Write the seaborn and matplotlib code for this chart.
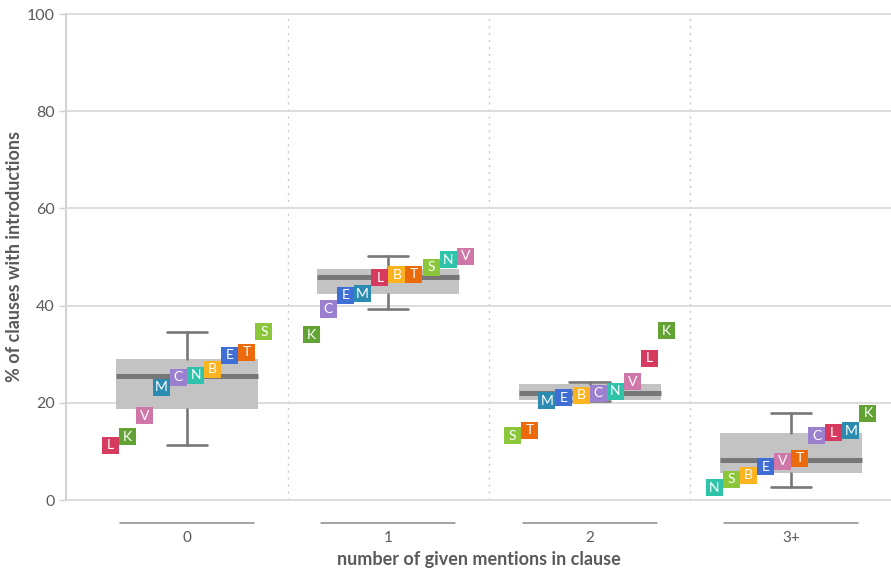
import numpy as np
import pandas as pd
import matplotlib
matplotlib.use("Agg")
import matplotlib.pyplot as plt
import seaborn as sns

# ---------------- data ----------------
categories = ["0", "1", "2", "3+"]
langs = ["B", "C", "E", "K", "L", "M", "N", "S", "T", "V"]

vals_0 = [26.9, 25.3, 29.8, 13.0, 11.3, 23.2, 25.7, 34.6, 30.4, 17.3]
vals_1 = [46.3, 39.3, 42.1, 34.0, 45.7, 42.4, 49.4, 47.9, 46.5, 50.2]
vals_2 = [21.6, 22.0, 21.0, 34.8, 29.2, 20.4, 22.4, 13.2, 14.4, 24.3]
vals_3 = [5.1, 13.2, 6.8, 17.9, 13.8, 14.2, 2.5, 4.3, 8.6, 8.0]

box_q1 = [18.7, 42.3, 20.5, 5.6]
box_med = [25.5, 45.9, 22.0, 8.3]
box_q3 = [29.0, 47.5, 23.9, 13.8]
box_lo = [11.3, 39.3, 20.3, 2.6]
box_hi = [34.6, 50.2, 24.3, 18.0]

lang_colors = {
    "B": "#fbb31f", "C": "#9b80cf", "E": "#3f6fd4", "K": "#62a333",
    "L": "#d63a5e", "M": "#2b8bb1", "N": "#2fc3aa", "S": "#8cc63b",
    "T": "#eb6a0b", "V": "#cf77a8",
}

# ---------------- layout helpers ----------------
all_vals = [vals_0, vals_1, vals_2, vals_3]
step = 0.0849  # horizontal spacing of squares within a group
rows = []
for gi, vals in enumerate(all_vals):
    order = np.argsort(vals)
    for rank, idx in enumerate(order):
        rows.append({"cat": gi, "lang": langs[idx], "value": vals[idx],
                     "xpos": gi + (rank - 4.5) * step})
df = pd.DataFrame(rows)

sns.set_theme(style="white")
plt.rcParams["font.family"] = ["Lato", "DejaVu Sans"]

fig = plt.figure(figsize=(8.91, 5.74), dpi=100)
ax = fig.add_axes([66 / 891, 74 / 574, 825 / 891, 486 / 574])

txt = "#5a5a5a"

# grid & separators
ax.set_ylim(0, 100)
ax.set_xlim(-0.601, 3.497)
ax.set_yticks([0, 20, 40, 60, 80, 100])
ax.yaxis.grid(True, color="#dadada", lw=1.3, zorder=0)
ax.set_axisbelow(True)
for gl in ax.get_ygridlines():
    gl.set_clip_on(False)
for sx in [0.5, 1.5, 2.5]:
    ax.axvline(sx, color="#c8c8c8", lw=1.0, ls=(0, (1.5, 3.5)), zorder=0.5)

# boxes
stats = []
for i in range(4):
    stats.append({"q1": box_q1[i], "med": box_med[i], "q3": box_q3[i],
                  "whislo": box_lo[i], "whishi": box_hi[i], "fliers": []})
ax.bxp(stats, positions=range(4), widths=0.705, patch_artist=True,
       showfliers=False, capwidths=0.2,
       boxprops=dict(facecolor="#c3c3c3", edgecolor="none", lw=0),
       medianprops=dict(color="#777777", lw=3.6, solid_capstyle="butt"),
       whiskerprops=dict(color="#777777", lw=1.9),
       capprops=dict(color="#777777", lw=1.9),
       zorder=2)

# squares
sns.scatterplot(data=df, x="xpos", y="value", hue="lang", palette=lang_colors,
                marker="s", s=150, linewidth=0, legend=False, ax=ax, zorder=5)
for _, r in df.iterrows():
    ax.text(r["xpos"], r["value"], r["lang"], color="white", ha="center",
            va="center", fontsize=10, zorder=6)

# x axis segments and labels
trans = ax.get_xaxis_transform()
for i in range(4):
    ax.plot([i - 0.333, i + 0.333], [-0.047, -0.047], transform=trans,
            clip_on=False, color="#8a8a8a", lw=1.1)
ax.set_xticks(range(4))
ax.set_xticklabels(categories)
ax.tick_params(axis="x", length=0, pad=22, labelsize=11, labelcolor=txt)
ax.tick_params(axis="y", length=5, width=1, color="#d0d0d0", pad=3,
               labelsize=11.5, labelcolor=txt, left=True)

for s in ["top", "right", "bottom"]:
    ax.spines[s].set_visible(False)
ax.spines["left"].set_color("#d3d3d3")
ax.spines["left"].set_linewidth(1.5)

ax.set_xlabel("number of given mentions in clause", fontsize=13,
              fontweight="bold", color=txt, labelpad=5)
ax.set_ylabel("% of clauses with introductions", fontsize=13,
              fontweight="bold", color=txt, labelpad=3)

fig.savefig("out.png", dpi=100)
